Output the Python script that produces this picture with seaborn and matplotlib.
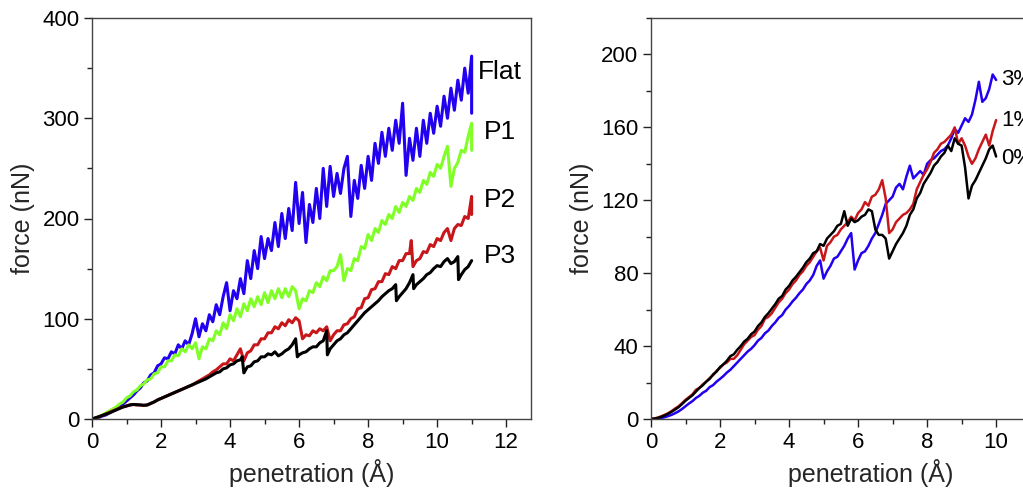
import numpy as np
import pandas as pd
import matplotlib
matplotlib.use("Agg")
import matplotlib.pyplot as plt
from matplotlib.ticker import MultipleLocator
import seaborn as sns

# ---------------- Left panel data (penetration Å, force nN) ----------------
flat_x = [0.0,0.1,0.2,0.3,0.4,0.5,0.6,0.7,0.8,0.9,1.0,1.1,1.2,1.3,1.4,1.5,1.6,1.7,1.8,1.9,
          2.0,2.1,2.2,2.3,2.4,2.5,2.6,2.7,2.8,2.9,3.0,3.1,3.2,3.3,3.4,3.5,3.6,3.7,3.8,3.9,
          4.0,4.1,4.2,4.3,4.4,4.5,4.6,4.7,4.8,4.9,5.0,5.1,5.2,5.3,5.4,5.5,5.6,5.7,5.8,5.9,
          6.0,6.1,6.2,6.3,6.4,6.5,6.6,6.7,6.8,6.9,7.0,7.1,7.2,7.3,7.4,7.5,7.6,7.7,7.8,7.9,
          8.0,8.1,8.2,8.3,8.4,8.5,8.6,8.7,8.8,8.9,9.0,9.1,9.2,9.3,9.4,9.5,9.6,9.7,9.8,9.9,
          10.0,10.1,10.2,10.3,10.4,10.5,10.6,10.7,10.8,10.9,11.0,11.0]
flat_y = [0,0.5,1.5,3,4,6,8,10,13,15,18,21,24,28,31,36,38,44,46,53,
          55,61,60,67,65,74,70,78,74,85,100,82,95,88,104,97,114,104,122,136,
          108,128,120,140,125,158,140,168,150,182,160,180,168,196,172,205,180,210,188,236,
          195,226,176,214,196,230,200,250,212,252,222,245,225,250,262,202,238,220,253,230,
          262,238,275,255,286,262,290,268,298,275,315,243,280,258,290,262,298,275,305,285,
          312,292,322,300,330,308,338,318,350,325,362,305]

p1_x = [0.0,0.1,0.2,0.3,0.4,0.5,0.6,0.7,0.8,0.9,1.0,1.1,1.2,1.3,1.4,1.5,1.6,1.7,1.8,1.9,
        2.0,2.1,2.2,2.3,2.4,2.5,2.6,2.7,2.8,2.9,3.0,3.1,3.2,3.3,3.4,3.5,3.6,3.7,3.8,3.9,
        4.0,4.1,4.2,4.3,4.4,4.5,4.6,4.7,4.8,4.9,5.0,5.1,5.2,5.3,5.4,5.5,5.6,5.7,5.8,5.9,
        6.0,6.1,6.2,6.3,6.4,6.5,6.6,6.7,6.8,6.9,7.0,7.1,7.2,7.3,7.4,7.5,7.6,7.7,7.8,7.9,
        8.0,8.1,8.2,8.3,8.4,8.5,8.6,8.7,8.8,8.9,9.0,9.1,9.2,9.3,9.4,9.5,9.6,9.7,9.8,9.9,
        10.0,10.1,10.2,10.3,10.4,10.5,10.6,10.7,10.8,10.9,11.0,11.0]
p1_y = [0,1,2,4,6,8,10,12,15,17,21,23,27,29,33,35,39,40,45,46,
        52,52,58,58,64,63,70,67,74,70,76,60,72,70,80,78,88,84,96,90,
        104,98,110,102,115,108,120,112,122,114,126,116,128,120,130,121,130,122,132,128,
        110,120,118,128,126,136,132,142,138,148,148,152,164,138,150,148,160,158,172,170,
        184,178,190,186,198,194,204,200,212,206,216,212,222,218,230,226,238,234,246,242,
        254,250,262,272,232,250,256,268,266,282,295,268]

p2_x = [0.0,0.1,0.2,0.3,0.4,0.5,0.6,0.7,0.8,0.9,1.0,1.1,1.2,1.3,1.4,1.5,1.6,1.7,1.8,1.9,
        2.0,2.1,2.2,2.3,2.4,2.5,2.6,2.7,2.8,2.9,3.0,3.1,3.2,3.3,3.4,3.5,3.6,3.7,3.8,3.9,
        4.0,4.1,4.2,4.3,4.4,4.5,4.6,4.7,4.8,4.9,5.0,5.1,5.2,5.3,5.4,5.5,5.6,5.7,5.8,5.9,
        6.0,6.1,6.2,6.3,6.4,6.5,6.6,6.7,6.8,6.9,7.0,7.1,7.2,7.3,7.4,7.5,7.6,7.7,7.8,7.9,
        8.0,8.1,8.2,8.3,8.4,8.5,8.6,8.7,8.8,8.9,9.0,9.1,9.2,9.25,9.3,9.4,9.5,9.6,9.7,9.8,9.9,
        10.0,10.1,10.2,10.3,10.4,10.5,10.6,10.7,10.8,10.9,11.0,11.0]
p2_y = [0,1,2,3.5,5,6.5,8,9.5,11,12,13,14,14.5,14,14,13.5,14,15.5,17,19,
        20.5,22,23.5,25,26.5,28,29.5,31,32.5,34,36,38,40,42,44,47,49,52,55,55,
        60,58,64,70,58,66,68,74,74,80,80,86,86,92,90,96,93,99,96,101,
        98,80,84,83,88,86,90,88,92,78,84,88,88,94,95,100,102,110,111,120,
        121,129,130,137,137,145,144,152,150,158,158,165,165,178,152,158,160,167,166,174,172,
        180,178,186,190,178,190,194,193,202,200,222,204]

p3_x = [0.0,0.1,0.2,0.3,0.4,0.5,0.6,0.7,0.8,0.9,1.0,1.1,1.2,1.3,1.4,1.5,1.6,1.7,1.8,1.9,
        2.0,2.1,2.2,2.3,2.4,2.5,2.6,2.7,2.8,2.9,3.0,3.1,3.2,3.3,3.4,3.5,3.6,3.7,3.8,3.9,
        4.0,4.1,4.2,4.3,4.35,4.4,4.5,4.6,4.7,4.8,4.9,5.0,5.1,5.2,5.3,5.4,5.5,5.6,5.7,5.8,5.9,5.95,
        6.0,6.1,6.2,6.3,6.4,6.5,6.6,6.7,6.8,6.82,6.9,7.0,7.1,7.2,7.3,7.4,7.5,7.6,7.7,7.8,7.9,
        8.0,8.1,8.2,8.3,8.4,8.5,8.6,8.7,8.8,8.82,8.9,9.0,9.1,9.2,9.3,9.32,9.4,9.5,9.6,9.7,9.8,9.9,
        10.0,10.1,10.2,10.3,10.4,10.5,10.6,10.62,10.7,10.8,10.9,11.0]
p3_y = [0,1.2,2.4,3.6,4.8,6,7.5,9,10.5,12,13,14,14.5,14.3,14,13.7,14,15.5,17,19,
        20.5,22,23.5,25,26.5,28,29.5,31,32.5,34,35.5,37,38.5,40,42,44,46,47,50,51,
        54,55,58,59,62,46,52,53,57,58,62,62,65,64,67,63,65,68,70,74,80,62,
        64,66,67,70,72,72,76,78,88,64,70,74,78,80,84,86,90,94,98,102,106,
        109,112,115,118,122,125,128,130,134,118,122,126,130,136,144,130,134,137,140,144,146,150,
        153,152,157,160,155,157,162,139,144,149,152,158]

left_labels = ["Flat", "P1", "P2", "P3"]
left_label_y = [346, 286, 218, 163]

# ---------------- Right panel data ----------------
r_x = [round(0.1 * i, 1) for i in range(101)]
r0_y = [0,0.2,0.6,1.2,2,2.9,4,5.2,6.5,8.2,10,11.5,13,15,17,18.5,20.5,22,24.5,26,
        28.5,30,32,34.5,35.5,38,40,42.5,44,46.5,48,51,53,56,58,60.5,63,66,67.5,71,
        73,76,78,80.5,83,86,88,91,92,96,95,99,101,103,106,107,114,106,110,108,
        109,111,112,115,114,104,101,101,99,88,92,96,99,102,106,112,115,121,124,129,
        132,135,139,141,144,146,150,147,154,151,150,138,121,128,131,135,139,143,148,150,144]
r1_y = [0,0.3,0.8,1.5,2.3,3.2,4.4,5.8,7,8.7,10.5,12,13.5,16,17,19,20.5,22.5,24,26.5,
        28,30,31,33,33,35,38,41,43,45,46,49,51,55,56,58,61,64,66,69,
        71,74,76,79,81,84,86,89,92,94,87,95,97,100,101,104,106,108,111,109,
        113,115,119,117,122,123,126,131,121,102,104,108,110,112,113,115,118,126,130,134,
        137,141,146,148,151,152,154,156,160,151,154,150,144,140,143,148,152,156,150,158,164]
r3_y = [0,0.1,0.3,0.6,1,1.6,2.3,3.2,4.2,5.5,7,8.5,9.8,11.5,12.7,14.4,15.5,17.5,18.6,20.5,
        22,23.6,25.5,27,29,31,33,35,37,38.5,40.5,43,44.5,47,48.5,51,53,55.5,57,60,
        62,64.5,66.5,69,71,74,76,79,84,87,77,81,84,88,89,92,95,99,102,82,
        87,91,92,95,99,102,107,112,118,120,122,127,129,126,133,139,132,134,136,134,
        140,142,143,145,147,148,150,154,159,157,161,165,163,167,175,185,174,176,181,189,186]

right_labels = ["3%", "1%", "0%"]
right_label_y = [186, 164, 143]

# ---------------- Styling ----------------
sns.set_theme(style="ticks")
plt.rcParams["font.family"] = ["Liberation Sans", "DejaVu Sans"]

BLUE = "#2200f0"
GREEN = "#80ff26"
RED = "#c8171b"
BLACK = "#000000"

fig = plt.figure(figsize=(10.23, 4.88), dpi=100)
W, H = 1023, 488
ax1 = fig.add_axes([92 / W, (H - 419) / H, 439 / W, 401 / H])
ax2 = fig.add_axes([651 / W, (H - 419) / H, 439 / W, 401 / H])

def draw(ax, xs, ys, color, lw):
    df = pd.DataFrame({"x": xs, "y": ys})
    sns.lineplot(data=df, x="x", y="y", ax=ax, color=color, lw=lw,
                 sort=False, estimator=None, legend=False)

draw(ax1, flat_x, flat_y, BLUE, 2.2)
draw(ax1, p1_x, p1_y, GREEN, 2.2)
draw(ax1, p2_x, p2_y, RED, 2.2)
draw(ax1, p3_x, p3_y, BLACK, 2.2)

draw(ax2, r_x, r3_y, BLUE, 1.8)
draw(ax2, r_x, r1_y, RED, 1.8)
draw(ax2, r_x, r0_y, BLACK, 1.8)

for lab, yv in zip(left_labels, left_label_y):
    ax1.text(11.82, yv, lab, ha="center", va="center", fontsize=19, color="black")
for lab, yv in zip(right_labels, right_label_y):
    ax2.text(10.15, yv, lab, ha="left", va="center", fontsize=16, color="black")

ax1.set_xlim(0, 12.72)
ax1.set_ylim(0, 400)
ax1.set_xticks([0, 2, 4, 6, 8, 10, 12])
ax1.set_yticks([0, 100, 200, 300, 400])
ax1.xaxis.set_minor_locator(MultipleLocator(1))
ax1.yaxis.set_minor_locator(MultipleLocator(50))

ax2.set_xlim(0, 12.72)
ax2.set_ylim(0, 220)
ax2.set_xticks([0, 2, 4, 6, 8, 10, 12])
ax2.set_yticks([0, 40, 80, 120, 160, 200])
ax2.xaxis.set_minor_locator(MultipleLocator(1))
ax2.yaxis.set_minor_locator(MultipleLocator(20))

for ax in (ax1, ax2):
    ax.set_xlabel("penetration (Å)", fontsize=18, labelpad=5)
    ax.set_ylabel("force (nN)", fontsize=18, labelpad=5)
    ax.tick_params(axis="both", which="major", direction="out", length=6, width=1,
                   labelsize=16, colors="#222222", labelcolor="black", pad=3)
    ax.tick_params(axis="both", which="minor", direction="out", length=3.5, width=1,
                   colors="#222222")
    for s in ax.spines.values():
        s.set_visible(True)
        s.set_color("#444444")
        s.set_linewidth(1.0)

fig.savefig("out.png", dpi=100)
